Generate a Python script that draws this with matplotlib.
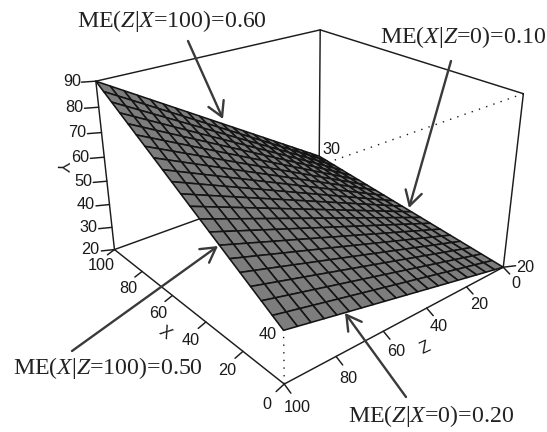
import matplotlib
matplotlib.use("Agg")
import matplotlib.pyplot as plt
import numpy as np
from mpl_toolkits.mplot3d import proj3d

# ---- data ----------------------------------------------------------------
x_vals = [0, 5, 10, 15, 20, 25, 30, 35, 40, 45, 50, 55, 60, 65, 70, 75, 80, 85, 90, 95, 100]
z_vals = [0, 5, 10, 15, 20, 25, 30, 35, 40, 45, 50, 55, 60, 65, 70, 75, 80, 85, 90, 95, 100]

# one row per X value, one column per Z value
y_table = [
    [20, 21, 22, 23, 24, 25, 26, 27, 28, 29, 30, 31, 32, 33, 34, 35, 36, 37, 38, 39, 40],
    [20.5, 21.6, 22.7, 23.8, 24.9, 26, 27.1, 28.2, 29.3, 30.4, 31.5, 32.6, 33.7, 34.8, 35.9, 37, 38.1, 39.2, 40.3, 41.4, 42.5],
    [21, 22.2, 23.4, 24.6, 25.8, 27, 28.2, 29.4, 30.6, 31.8, 33, 34.2, 35.4, 36.6, 37.8, 39, 40.2, 41.4, 42.6, 43.8, 45],
    [21.5, 22.8, 24.1, 25.4, 26.7, 28, 29.3, 30.6, 31.9, 33.2, 34.5, 35.8, 37.1, 38.4, 39.7, 41, 42.3, 43.6, 44.9, 46.2, 47.5],
    [22, 23.4, 24.8, 26.2, 27.6, 29, 30.4, 31.8, 33.2, 34.6, 36, 37.4, 38.8, 40.2, 41.6, 43, 44.4, 45.8, 47.2, 48.6, 50],
    [22.5, 24, 25.5, 27, 28.5, 30, 31.5, 33, 34.5, 36, 37.5, 39, 40.5, 42, 43.5, 45, 46.5, 48, 49.5, 51, 52.5],
    [23, 24.6, 26.2, 27.8, 29.4, 31, 32.6, 34.2, 35.8, 37.4, 39, 40.6, 42.2, 43.8, 45.4, 47, 48.6, 50.2, 51.8, 53.4, 55],
    [23.5, 25.2, 26.9, 28.6, 30.3, 32, 33.7, 35.4, 37.1, 38.8, 40.5, 42.2, 43.9, 45.6, 47.3, 49, 50.7, 52.4, 54.1, 55.8, 57.5],
    [24, 25.8, 27.6, 29.4, 31.2, 33, 34.8, 36.6, 38.4, 40.2, 42, 43.8, 45.6, 47.4, 49.2, 51, 52.8, 54.6, 56.4, 58.2, 60],
    [24.5, 26.4, 28.3, 30.2, 32.1, 34, 35.9, 37.8, 39.7, 41.6, 43.5, 45.4, 47.3, 49.2, 51.1, 53, 54.9, 56.8, 58.7, 60.6, 62.5],
    [25, 27, 29, 31, 33, 35, 37, 39, 41, 43, 45, 47, 49, 51, 53, 55, 57, 59, 61, 63, 65],
    [25.5, 27.6, 29.7, 31.8, 33.9, 36, 38.1, 40.2, 42.3, 44.4, 46.5, 48.6, 50.7, 52.8, 54.9, 57, 59.1, 61.2, 63.3, 65.4, 67.5],
    [26, 28.2, 30.4, 32.6, 34.8, 37, 39.2, 41.4, 43.6, 45.8, 48, 50.2, 52.4, 54.6, 56.8, 59, 61.2, 63.4, 65.6, 67.8, 70],
    [26.5, 28.8, 31.1, 33.4, 35.7, 38, 40.3, 42.6, 44.9, 47.2, 49.5, 51.8, 54.1, 56.4, 58.7, 61, 63.3, 65.6, 67.9, 70.2, 72.5],
    [27, 29.4, 31.8, 34.2, 36.6, 39, 41.4, 43.8, 46.2, 48.6, 51, 53.4, 55.8, 58.2, 60.6, 63, 65.4, 67.8, 70.2, 72.6, 75],
    [27.5, 30, 32.5, 35, 37.5, 40, 42.5, 45, 47.5, 50, 52.5, 55, 57.5, 60, 62.5, 65, 67.5, 70, 72.5, 75, 77.5],
    [28, 30.6, 33.2, 35.8, 38.4, 41, 43.6, 46.2, 48.8, 51.4, 54, 56.6, 59.2, 61.8, 64.4, 67, 69.6, 72.2, 74.8, 77.4, 80],
    [28.5, 31.2, 33.9, 36.6, 39.3, 42, 44.7, 47.4, 50.1, 52.8, 55.5, 58.2, 60.9, 63.6, 66.3, 69, 71.7, 74.4, 77.1, 79.8, 82.5],
    [29, 31.8, 34.6, 37.4, 40.2, 43, 45.8, 48.6, 51.4, 54.2, 57, 59.8, 62.6, 65.4, 68.2, 71, 73.8, 76.6, 79.4, 82.2, 85],
    [29.5, 32.4, 35.3, 38.2, 41.1, 44, 46.9, 49.8, 52.7, 55.6, 58.5, 61.4, 64.3, 67.2, 70.1, 73, 75.9, 78.8, 81.7, 84.6, 87.5],
    [30, 33, 36, 39, 42, 45, 48, 51, 54, 57, 60, 63, 66, 69, 72, 75, 78, 81, 84, 87, 90],
]

x_ticks = [0, 20, 40, 60, 80, 100]
z_ticks = [0, 20, 40, 60, 80, 100]
y_ticks = [20, 30, 40, 50, 60, 70, 80, 90]

me_labels = [r"ME($\mathit{Z}$|$\mathit{X}$=100)=0.60", r"ME($\mathit{X}$|$\mathit{Z}$=0)=0.10",
             r"ME($\mathit{X}$|$\mathit{Z}$=100)=0.50", r"ME($\mathit{Z}$|$\mathit{X}$=0)=0.20"]

# ---- figure and camera (camera fitted against the box corners) -------------
plt.rcParams["mathtext.fontset"] = "custom"
plt.rcParams["mathtext.rm"] = "Liberation Serif"
plt.rcParams["mathtext.it"] = "Liberation Serif:italic"

W, H = 547, 432
ELEV, AZIM, FOCAL = 25.2014, 139.9802, 0.3584
BOX = (1.053, 1.05, 0.6857)
SCALE, TX, TY = 2361.6173, 305.2855, 176.817

fig = plt.figure(figsize=(W / 100, H / 100), dpi=100)
ax = fig.add_subplot(projection="3d")
ax.set_xlim(0, 100)
ax.set_ylim(0, 100)
ax.set_zlim(20, 90)
ax.view_init(elev=ELEV, azim=AZIM)
ax.set_proj_type("persp", focal_length=FOCAL)
ax.set_box_aspect(BOX)
ax.set_axis_off()
ax.computed_zorder = False

x0, x1 = ax.viewLim.intervalx
y0, y1 = ax.viewLim.intervaly
side = SCALE * (x1 - x0)
ax.set_position([(TX + SCALE * x0) / W, (H - TY + SCALE * y0) / H, side / W, side / H])

over = fig.add_axes([0, 0, 1, 1], zorder=10)
over.set_xlim(0, W)
over.set_ylim(H, 0)
over.set_xticks([])
over.set_yticks([])
over.axis("off")

INK = "#1c1c1c"
LW = 1.05
M = ax.get_proj()


def edge(a, b, ls="-", lw=LW, z=1):
    ax.plot([a[0], b[0]], [a[1], b[1]], [a[2], b[2]], color=INK, lw=lw, ls=ls, zorder=z,
            solid_capstyle="round", clip_on=False)


def label(x, z, y, s, dx, dy, ha="center", rotation=0):
    # text sits on the overlay, dx/dy pixels away from where (x, z, y) lands
    xp, yp, _ = proj3d.proj_transform(x, z, y, M)
    over.text(TX + SCALE * xp + dx, TY - SCALE * yp + dy, s, ha=ha, va="center", rotation=rotation,
              family="Liberation Sans", fontsize=11.7, color="#1a1a1a")


xmin, xmax, zmin, zmax, ymin, ymax = x_ticks[0], x_ticks[-1], z_ticks[0], z_ticks[-1], y_ticks[0], y_ticks[-1]

# back edges go under the surface
edge((xmax, zmax, ymin), (xmax, zmin, ymin))
edge((xmax, zmin, ymin), (xmax, zmin, ymax))
edge((xmax, zmin, ymax), (xmax, zmax, ymax))
edge((xmax, zmin, ymax), (xmin, zmin, ymax))
edge((xmax, zmax, ymin), (xmax, zmax, ymax))
edge((xmin, zmin, ymin), (xmin, zmin, ymax))
edge((xmax, zmax, ymin), (xmin, zmax, ymin))
edge((xmin, zmax, ymin), (xmin, zmin, ymin))
dots = (0, (1, 4.5))
edge((xmin, zmin, ymax), (xmin, zmax, ymax), ls=dots, lw=1.0)
edge((xmin, zmax, ymin), (xmin, zmax, ymax), ls=dots, lw=1.0)

X, Z = np.meshgrid(x_vals, z_vals, indexing="ij")
ax.plot_surface(X, Z, np.array(y_table), rstride=1, cstride=1, color="#7d7d7d", shade=False,
                edgecolor="#141414", linewidth=1.15, antialiased=True, zorder=2)

# ticks and their labels, outward from the box edges (the near ones sit further out)
for v in x_ticks:
    edge((v, zmax, ymin), (v, zmax + 3, ymin - 1.2), z=3)
    near = 1 - v / xmax
    label(v, zmax, ymin, str(v), -13 - 4 * near, 16 + 4 * near)
for v in z_ticks:
    edge((xmin, v, ymin), (xmin - 3, v, ymin - 1.5), z=3)
    label(xmin, v, ymin, str(v), 12.5, 16 + 7 * v / zmax)
for v in y_ticks:
    edge((xmax, zmax, v), (xmax + 2.2, zmax + 4.2, v), z=3)
    label(xmax, zmax, v, str(v), -15, 0, ha="right")

# surface corner values
edge((xmin, zmin, ymin), (xmin - 2.2, zmin - 4.2, ymin), z=3)
label(xmin, zmin, y_table[0][0], str(y_table[0][0]), 22, 0)
label(xmin, zmax, y_table[0][-1], str(y_table[0][-1]), -16, 4)
label(xmax, zmin, y_table[-1][0], str(y_table[-1][0]), 12, -7)

# axis names
label(50, zmax, ymin, "X", -24, 24, rotation=-38)
label(xmin, 50, ymin, "Z", 20, 28, rotation=25)
label(xmax, zmax, 56, "Y", -44, 0, rotation=-92)

# ---- callouts, in picture pixels ------------------------------------------
text_xy = [(172, 21), (463, 37), (108, 368), (431, 416)]
arrow_from = [(188, 41), (451, 61), (72, 351), (406, 397)]
arrow_to = [(223, 119), (409, 208), (218, 246), (345, 313)]

for s, t, a, b in zip(me_labels, text_xy, arrow_from, arrow_to):
    over.text(t[0], t[1], s, family="Liberation Serif", fontsize=17.2, color="#222222",
              ha="center", va="center")
    over.annotate("", xy=b, xytext=a,
                  arrowprops=dict(arrowstyle="->,head_length=1.05,head_width=0.6", mutation_scale=10,
                                  lw=1.7, color="#3a3a3a", shrinkA=0, shrinkB=0))

fig.savefig("out.png", dpi=100)
